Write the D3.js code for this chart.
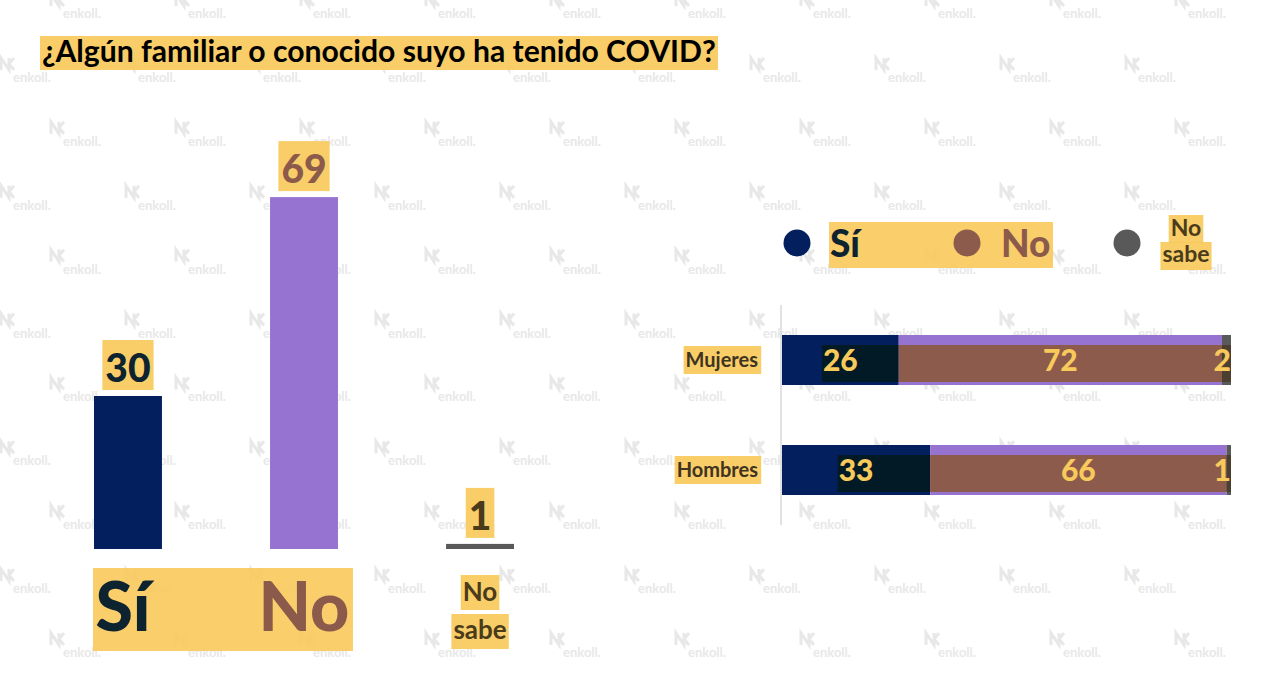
<!DOCTYPE html>
<html>
<head>
<meta charset="utf-8">
<script src="https://cdn.jsdelivr.net/npm/d3@7"></script>
<style>
  body { margin: 0; background: #fff; }
  svg { display: block; font-family: Lato, "Open Sans", sans-serif; font-weight: bold; }
</style>
</head>
<body>
<svg width="1280" height="686"></svg>
<script>
// datos
let titulo = '¿Algún familiar o conocido suyo ha tenido COVID?'
let respuestas = ['Sí', 'No', 'No sabe']
let totales = [30, 69, 1]
let grupos = ['Mujeres', 'Hombres']
let siGrupo = [26, 33]
let noGrupo = [72, 66]
let nsGrupo = [2, 1]

let yellow = '#f8c95b'
let barColor = ['#031f5e', '#9673d0', '#595959']
let innerColor = ['#021a25', '#8d5b4c', '#4b4030']
let txtColor = ['#0d2330', '#8c5a4a', '#4a3b1a']
let legColor = ['#031f5e', '#8d5b4c', '#595959']

let svg = d3.select('svg')

// marca de agua
let wm = svg.append('g').attr('fill', '#e8e8e8').attr('stroke', '#e8e8e8')
for (let r = 0; r < 11; r++) {
    let ty = 18 + r * 63.9
    let x0 = (r % 2 === 0) ? 63 : 13
    for (let c = -1; c < 11; c++) {
        let tx = x0 + c * 125
        if (tx < 0 || tx > 1230) continue
        wm.append('path')
            .attr('d', `M${tx-12},${ty-12} v-12 l8,12 v-12 M${tx-4},${ty-18} l5,-6 M${tx-4},${ty-18} l5,6`)
            .attr('fill', 'none').attr('stroke-width', 3)
        wm.append('text').attr('x', tx).attr('y', ty)
            .attr('stroke', 'none').attr('font-size', 13).text('enkoll.')
    }
}

// titulo
svg.append('rect').attr('x', 40).attr('y', 36).attr('width', 678).attr('height', 34)
    .attr('fill', yellow).attr('opacity', 0.92)
let t = svg.append('text').attr('x', 42).attr('y', 62).attr('font-size', 24).attr('fill', '#000').text(titulo)
let tw = t.node().getComputedTextLength()
t.attr('font-size', 24 * 674 / tw)

// grafica izquierda
let x = d3.scaleBand().domain(respuestas).range([94, 514]).paddingInner(0.614).paddingOuter(0)
let y = d3.scaleLinear().domain([0, 100]).range([549, 39])

let left = svg.append('g')
left.selectAll('rect.bar')
    .data(totales)
    .enter()
    .append('rect')
    .attr('class', 'bar')
    .attr('x', (d, i) => x(respuestas[i]))
    .attr('y', (d) => y(d))
    .attr('width', x.bandwidth())
    .attr('height', (d) => y(0) - y(d))
    .attr('fill', (d, i) => barColor[i])

totales.forEach((d, i) => {
    let cx = x(respuestas[i]) + x.bandwidth() / 2
    let g = left.append('g')
    let lab = g.append('text').attr('x', cx).attr('y', y(d) - 14)
        .attr('text-anchor', 'middle').attr('font-size', 39).attr('font-weight', 900).attr('fill', txtColor[i]).text(d)
    let bb = lab.node().getBBox()
    g.insert('rect', 'text').attr('x', bb.x - 3).attr('y', y(d) - 56).attr('width', bb.width + 6).attr('height', 50)
        .attr('fill', yellow).attr('opacity', 0.92)
})

// etiquetas de categoria
left.append('rect').attr('x', 93).attr('y', 568).attr('width', 260).attr('height', 83)
    .attr('fill', yellow).attr('opacity', 0.9)
respuestas.slice(0, 2).forEach((r, i) => {
    left.append('text').attr('x', x(r) + x.bandwidth() / 2 - (i === 0 ? 5 : 0)).attr('y', 631)
        .attr('text-anchor', 'middle').attr('font-size', 68).attr('font-weight', 900).attr('fill', txtColor[i]).text(r)
})
let nsx = x('No sabe') + x.bandwidth() / 2
;['No', 'sabe'].forEach((w, j) => {
    let g = left.append('g')
    let tt = g.append('text').attr('x', nsx).attr('y', 601 + j * 38)
        .attr('text-anchor', 'middle').attr('font-size', 26).attr('fill', txtColor[2]).text(w)
    let bb = tt.node().getBBox()
    g.insert('rect', 'text').attr('x', bb.x - 2).attr('y', 575 + j * 39).attr('width', bb.width + 4).attr('height', 35)
        .attr('fill', yellow).attr('opacity', 0.92)
})

// grafica derecha
let xs = d3.scaleLinear().domain([0, 100]).range([782, 1231])
let yb = d3.scaleBand().domain(grupos).range([335, 495]).paddingInner(60 / 110).paddingOuter(0)
let series = [siGrupo, noGrupo, nsGrupo]
let stack = grupos.map((g, i) => {
    let acc = 0
    return series.map((s, k) => {
        let seg = { grupo: g, k: k, v: s[i], x0: acc, x1: acc + s[i] }
        acc += s[i]
        return seg
    })
})

let right = svg.append('g')
right.append('line').attr('x1', 781).attr('x2', 781).attr('y1', 305).attr('y2', 525)
    .attr('stroke', '#d9d9d9').attr('stroke-width', 1.5)

stack.forEach((row) => {
    row.forEach((s) => {
        let by = yb(s.grupo)
        let g = right.append('g')
        g.append('rect').attr('x', xs(s.x0)).attr('y', by)
            .attr('width', xs(s.x1) - xs(s.x0)).attr('height', yb.bandwidth()).attr('fill', barColor[s.k])
        let cx = (xs(s.x0) + xs(s.x1)) / 2
        let anchor = 'middle'
        if (s.k === 2) { cx = xs(s.x1); anchor = 'end' }
        let lab = g.append('text').attr('x', cx).attr('y', by + 36)
            .attr('text-anchor', anchor).attr('font-size', 30).attr('font-weight', 900).attr('fill', yellow).text(s.v)
        let bb = lab.node().getBBox()
        let ix0 = s.k === 0 ? bb.x - 1 : xs(s.x0)
        g.insert('rect', 'text').attr('x', ix0).attr('y', by + 10)
            .attr('width', xs(s.x1) - ix0).attr('height', yb.bandwidth() - 13).attr('fill', innerColor[s.k])
    })
})

grupos.forEach((gr) => {
    let gg = right.append('g')
    let tt = gg.append('text').attr('x', 758).attr('y', yb(gr) + 32)
        .attr('text-anchor', 'end').attr('font-size', 20).attr('fill', '#3f3420').text(gr)
    let bb = tt.node().getBBox()
    gg.insert('rect', 'text').attr('x', bb.x - 2).attr('y', yb(gr) + 11).attr('width', bb.width + 5).attr('height', 28)
        .attr('fill', yellow).attr('opacity', 0.92)
})

// leyenda
let leg = svg.append('g')
leg.append('rect').attr('x', 829).attr('y', 222).attr('width', 224).attr('height', 46)
    .attr('fill', yellow).attr('opacity', 0.9)
let legX = [797, 967, 1127]
legX.forEach((lx, i) => {
    leg.append('circle').attr('cx', lx).attr('cy', 243).attr('r', 13.5).attr('fill', legColor[i])
})
;['Sí', 'No'].forEach((l, i) => {
    leg.append('text').attr('x', [830, 1001][i]).attr('y', 257).attr('font-size', 37).attr('font-weight', 900)
        .attr('fill', txtColor[i]).text(l)
})
;['No', 'sabe'].forEach((w, j) => {
    let g = leg.append('g')
    let tt = g.append('text').attr('x', 1186).attr('y', 236 + j * 26)
        .attr('text-anchor', 'middle').attr('font-size', 23).attr('fill', txtColor[2]).text(w)
    let bb = tt.node().getBBox()
    g.insert('rect', 'text').attr('x', bb.x - 2).attr('y', 215 + j * 27).attr('width', bb.width + 4).attr('height', 28)
        .attr('fill', yellow).attr('opacity', 0.92)
})
</script>
</body>
</html>
